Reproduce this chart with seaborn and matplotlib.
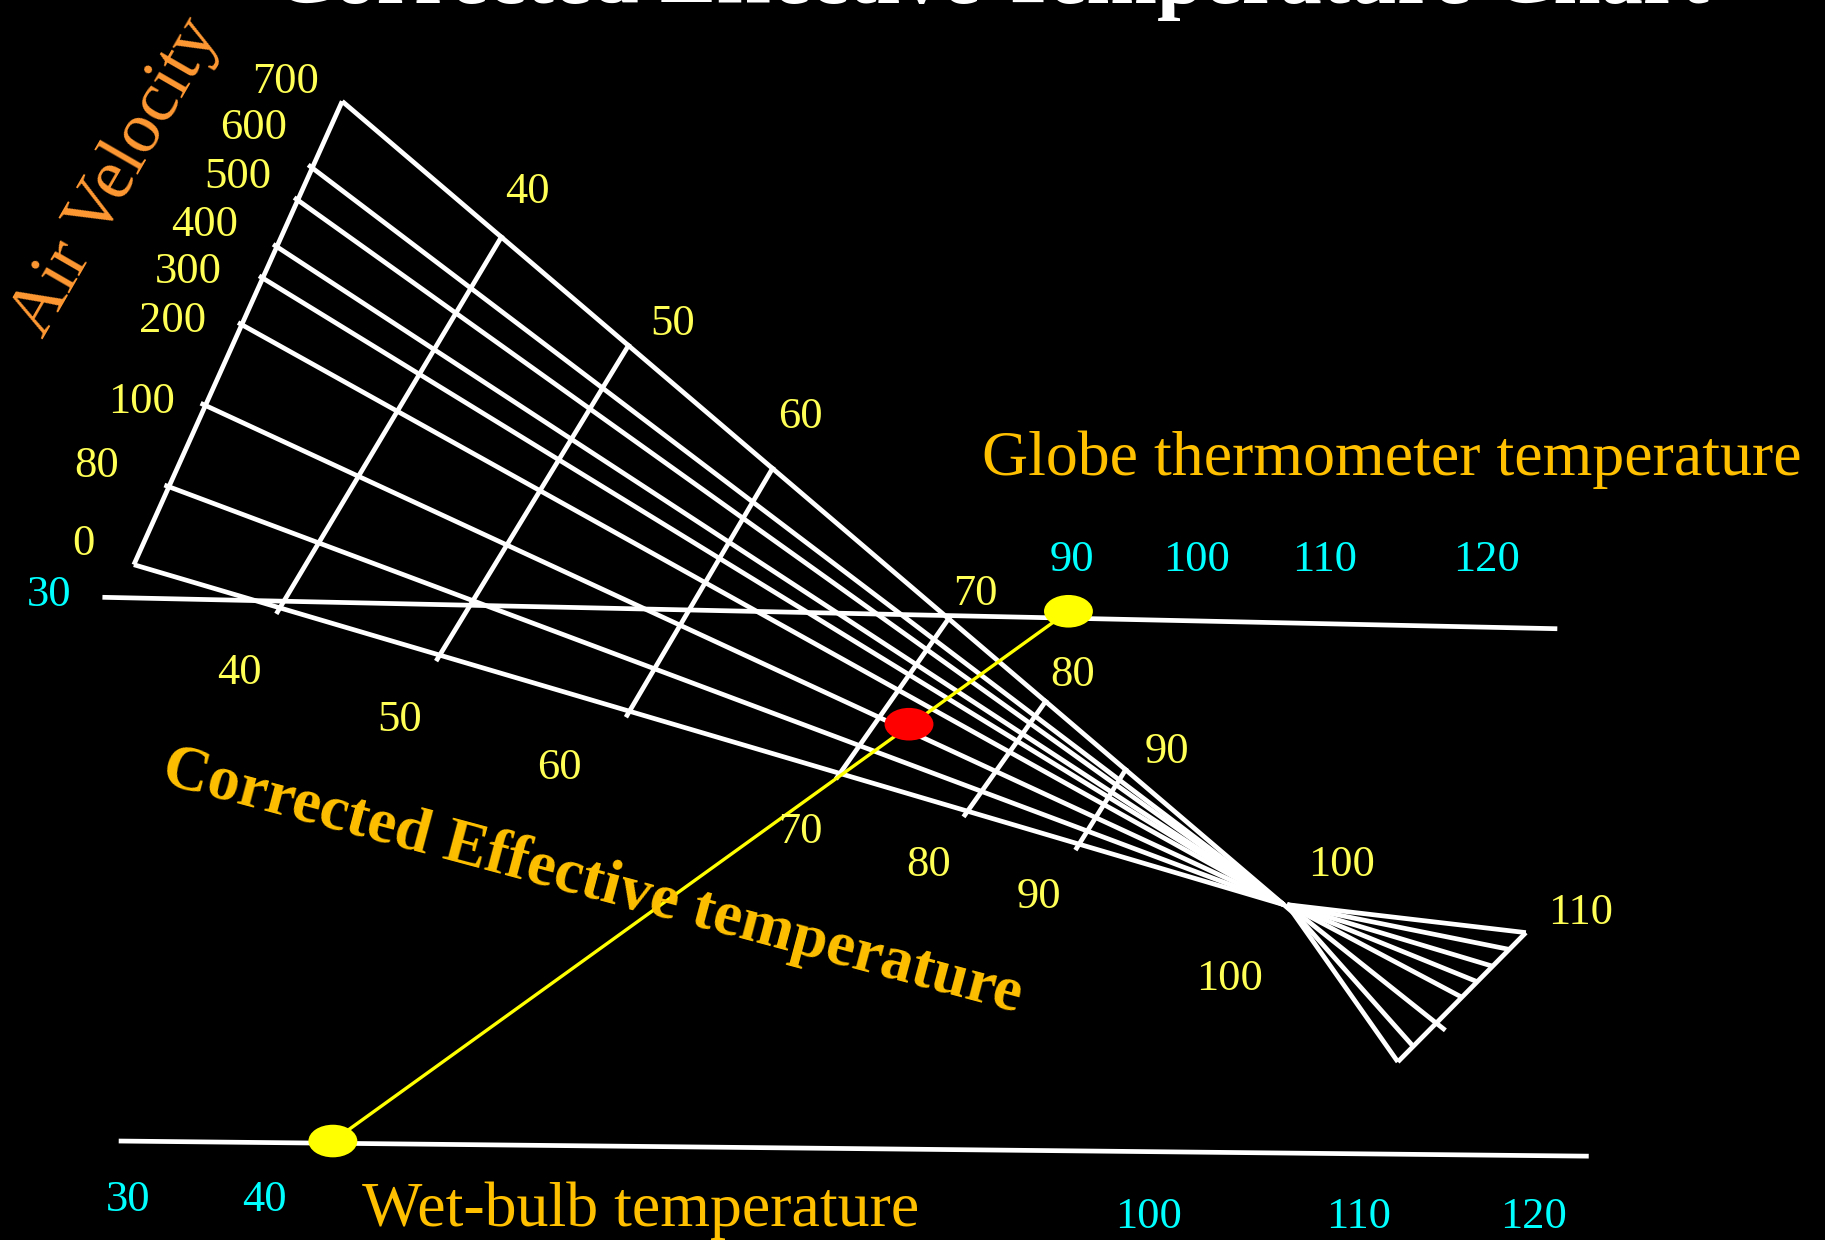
import numpy as np
import pandas as pd
import matplotlib
matplotlib.use("Agg")
import matplotlib.pyplot as plt
from matplotlib.patches import Ellipse
import seaborn as sns

# ------------------------------------------------------------------
# Data (nomogram geometry, canvas 1568 x 1065,
# y pointing downward)
# ------------------------------------------------------------------
velocity_labels = ["0", "80", "100", "200", "300", "400", "500", "600", "700"]
velocity_x = [115, 145, 176, 208, 226, 238, 256, 268, 294]
velocity_y = [485, 418, 348, 279, 239, 212, 172, 144, 87]
velocity_label_x = [72, 83, 122, 148, 162, 176, 204, 218, 245]
velocity_label_y = [464, 397, 342, 273, 231, 190, 149, 107, 67]

converge_x, converge_y = 1103, 777

cet_values = [40, 50, 60, 70, 80, 90]
cet_frac_top = [0.169, 0.304, 0.457, 0.644, 0.747, 0.832]
cet_frac_bottom = [0.127, 0.266, 0.431, 0.614, 0.725, 0.822]
cet_top_labels = ["40", "50", "60", "70", "80", "90", "100", "110"]
cet_top_label_x = [453, 578, 688, 838, 922, 1003, 1153, 1358]
cet_top_label_y = [162, 275, 355, 507, 577, 643, 740, 781]
cet_bottom_labels = ["40", "50", "60", "70", "80", "90", "100"]
cet_bottom_label_x = [206, 343, 481, 688, 798, 893, 1056]
cet_bottom_label_y = [575, 615, 657, 712, 740, 767, 838]

fan_start = (1106, 777)
fan_edge_top = (1311, 801)
fan_edge_bottom = (1201, 912)
fan_fracs = [0.0, 0.13, 0.26, 0.38, 0.50, 0.70, 0.88, 1.0]
fan_overshoot = [0, 0, 0, 0, 0, 10, 0, 0]

globe_line_x = [88, 1338]
globe_line_y = [513, 540]
globe_labels = ["30", "90", "100", "110", "120"]
globe_label_x = [42, 921, 1028, 1138, 1277]
globe_label_y = [508, 478, 478, 478, 478]

wet_line_x = [102, 1365]
wet_line_y = [980, 993]
wet_labels = ["30", "40", "100", "110", "120"]
wet_label_x = [110, 227, 987, 1167, 1318]
wet_label_y = [1028, 1028, 1042, 1042, 1042]

wet_point = (286, 980)
globe_point = (918, 525)
cet_point = (781, 622)

# ------------------------------------------------------------------
sns.set_theme(style="dark")
plt.rcParams["font.family"] = ["Liberation Serif", "DejaVu Serif"]

W, H = 1568, 1065
fig = plt.figure(figsize=(18.25, 12.4), dpi=100)
fig.patch.set_facecolor("black")
ax = fig.add_axes([0, 0, 1, 1])
ax.set_facecolor("black")

segs = []
def add(seg_id, xs, ys):
    for x, y in zip(xs, ys):
        segs.append({"seg": seg_id, "x": x, "y": y})

sid = 0
# velocity axis
add(sid, [velocity_x[0], velocity_x[-1]], [velocity_y[0], velocity_y[-1]]); sid += 1
# velocity lines to convergence (with small tick overshoot on the left)
for i, (vx, vy) in enumerate(zip(velocity_x, velocity_y)):
    d = np.array([converge_x - vx, converge_y - vy], float)
    u = d / np.linalg.norm(d)
    start = np.array([vx, vy]) - u * (4 if 0 < i < len(velocity_x) - 1 else 0)
    end = np.array([converge_x, converge_y]) + (u * 11 if i == len(velocity_x) - 1 else 0)
    add(sid, [start[0], end[0]], [start[1], end[1]]); sid += 1

# CET transverse lines
top0 = np.array([velocity_x[-1], velocity_y[-1]], float)
bot0 = np.array([velocity_x[0], velocity_y[0]], float)
cv = np.array([converge_x, converge_y], float)
for ft, fb in zip(cet_frac_top, cet_frac_bottom):
    p = top0 + ft * (cv - top0)
    q = bot0 + fb * (cv - bot0)
    u = (q - p) / np.linalg.norm(q - p)
    p2, q2 = p - u * 2, q + u * 6
    add(sid, [p2[0], q2[0]], [p2[1], q2[1]]); sid += 1

# right fan
fs = np.array(fan_start, float)
et = np.array(fan_edge_top, float)
eb = np.array(fan_edge_bottom, float)
add(sid, [et[0], eb[0]], [et[1], eb[1]]); sid += 1
for f, ov in zip(fan_fracs, fan_overshoot):
    e = et + f * (eb - et)
    u = (e - fs) / np.linalg.norm(e - fs)
    e2 = e + u * ov
    add(sid, [fs[0], e2[0]], [fs[1], e2[1]]); sid += 1

# globe & wet-bulb scales
add(sid, globe_line_x, globe_line_y); sid += 1
add(sid, wet_line_x, wet_line_y); sid += 1

df = pd.DataFrame(segs)
sns.lineplot(data=df, x="x", y="y", units="seg", estimator=None, sort=False,
             color="white", linewidth=3.4, ax=ax, legend=False,
             solid_capstyle="butt")

# reading line
read = pd.DataFrame({"x": [wet_point[0], globe_point[0]],
                     "y": [wet_point[1], globe_point[1]]})
sns.lineplot(data=read, x="x", y="y", estimator=None, sort=False,
             color="#FFFF00", linewidth=2.4, ax=ax, legend=False)

for (px, py), col in [(wet_point, "#FFFF00"), (globe_point, "#FFFF00"),
                      (cet_point, "#FF0000")]:
    ax.add_patch(Ellipse((px, py), 42, 28, facecolor=col, edgecolor="none",
                         zorder=5))

num_yellow = "#FFFF55"
cyan = "#00FFFF"
gold = "#FFC000"
fs_num = 32
dy = 3  # small baseline correction for label centring

for t, x, y in zip(velocity_labels, velocity_label_x, velocity_label_y):
    ax.text(x, y + dy, t, color=num_yellow, fontsize=fs_num, ha="center", va="center")
for t, x, y in zip(cet_top_labels, cet_top_label_x, cet_top_label_y):
    ax.text(x, y + dy, t, color=num_yellow, fontsize=fs_num, ha="center", va="center")
for t, x, y in zip(cet_bottom_labels, cet_bottom_label_x, cet_bottom_label_y):
    ax.text(x, y + dy, t, color=num_yellow, fontsize=fs_num, ha="center", va="center")
for t, x, y in zip(globe_labels, globe_label_x, globe_label_y):
    ax.text(x, y + dy, t, color=cyan, fontsize=fs_num, ha="center", va="center")
for t, x, y in zip(wet_labels, wet_label_x, wet_label_y):
    ax.text(x, y + dy, t, color=cyan, fontsize=fs_num, ha="center", va="center")

ax.text(1196, 408, "Globe thermometer temperature", color=gold, fontsize=46,
        ha="center", va="baseline")
ax.text(550, 1053, "Wet-bulb temperature", color=gold, fontsize=46,
        ha="center", va="baseline")
ax.text(509, 758, "Corrected Effective temperature", color=gold, fontsize=46,
        fontweight="bold", ha="center", va="center", rotation=-15)
ax.text(100, 152, "Air Velocity", color="#FF9933", fontsize=52,
        ha="center", va="center", rotation=60)
ax.text(851, 2.6, "Corrected Effective Temperature Chart", color="white",
        fontsize=61, fontweight="bold", ha="center", va="baseline")

ax.set_xlim(0, W)
ax.set_ylim(H, 0)
ax.axis("off")
fig.savefig("out.png", dpi=100, facecolor="black")
